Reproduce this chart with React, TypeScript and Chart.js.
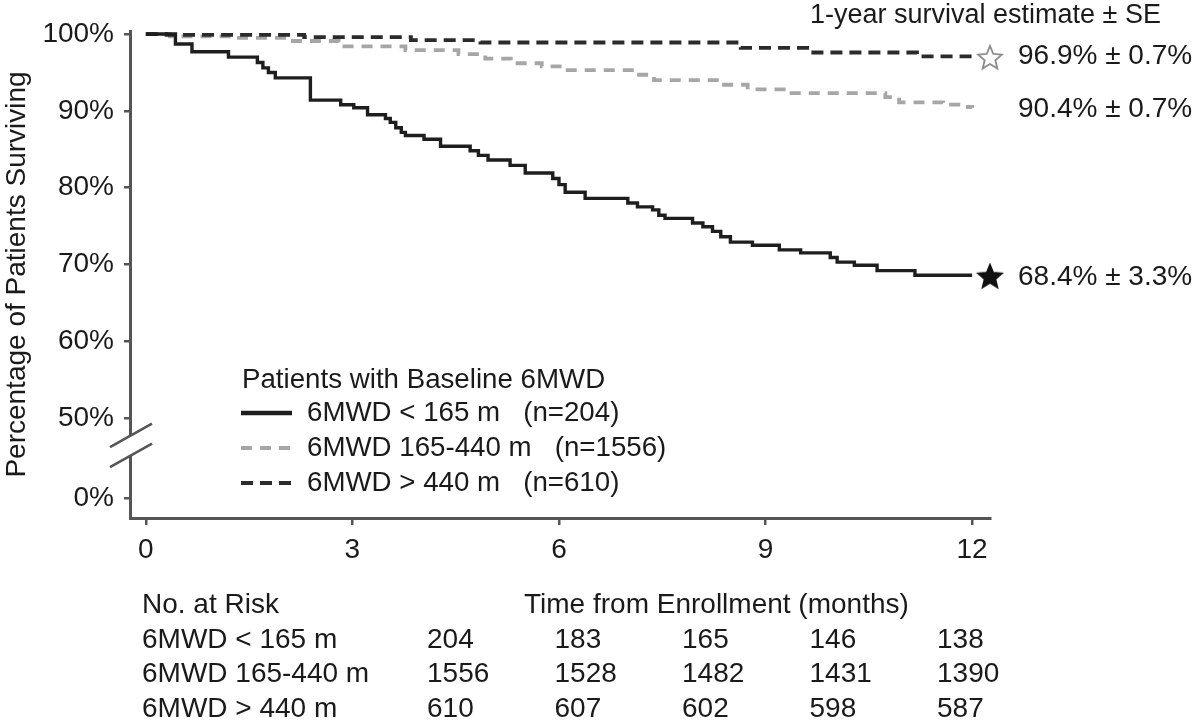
import React, { useEffect, useRef } from "react";
import { Chart, registerables, Plugin } from "chart.js";

Chart.register(...registerables);

// Kaplan-Meier steps (months, % surviving)
const lowMonths = [0, 0.43, 0.67, 1.2, 1.62, 1.7, 1.78, 1.88, 2.39, 2.83, 3.02, 3.22, 3.48, 3.55, 3.63, 3.71, 3.77, 4.04, 4.28, 4.71, 4.83, 4.97, 5.29, 5.51, 5.91, 6.0, 6.09, 6.38, 7.0, 7.14, 7.36, 7.45, 7.54, 7.94, 8.09, 8.23, 8.35, 8.49, 8.81, 9.2, 9.51, 9.94, 10.04, 10.29, 10.62, 11.17, 12.0];
const lowSurvival = [100, 98.7, 97.7, 97.0, 96.3, 95.6, 95.0, 94.3, 91.4, 90.8, 90.4, 89.5, 89.0, 88.5, 87.8, 87.2, 86.8, 86.3, 85.4, 84.8, 84.2, 83.6, 82.9, 81.9, 81.2, 80.4, 79.4, 78.6, 78.0, 77.5, 77.1, 76.4, 76.0, 75.4, 74.9, 74.3, 73.6, 72.9, 72.5, 71.9, 71.5, 70.9, 70.3, 69.9, 69.2, 68.6, 68.6];

const midMonths = [0, 0.35, 1.3, 2.1, 2.8, 3.77, 4.54, 4.93, 5.3, 5.75, 6.09, 7.12, 7.38, 8.35, 8.74, 9.32, 10.74, 10.94, 11.58, 11.9, 12.0];
const midSurvival = [100, 99.7, 99.5, 99.1, 98.4, 97.9, 97.4, 96.8, 96.2, 95.8, 95.3, 94.7, 94.0, 93.4, 92.8, 92.3, 91.8, 91.1, 90.8, 90.5, 90.4];

const highMonths = [0, 0.3, 2.3, 3.85, 4.86, 8.64, 9.64, 11.2, 12.0];
const highSurvival = [100, 99.9, 99.6, 99.2, 98.9, 98.2, 97.6, 97.1, 97.0];

const groupLabels = ["6MWD < 165 m", "6MWD 165-440 m", "6MWD > 440 m"];
const groupCounts = [204, 1556, 610];
const oneYearEstimate = [68.4, 90.4, 96.9];
const oneYearSE = [3.3, 0.7, 0.7];

const xTicks = [0, 3, 6, 9, 12];
const yTickPercents = [0, 50, 60, 70, 80, 90, 100];

const atRiskLow = [204, 183, 165, 146, 138];
const atRiskMid = [1556, 1528, 1482, 1431, 1390];
const atRiskHigh = [610, 607, 602, 598, 587];

// broken y axis: 50..100 linear, 0% squeezed in below the break
const ZERO_POS = 39.58;
const toAxis = (p: number) => (p >= 50 ? p : ZERO_POS + (p * (50 - ZERO_POS)) / 50);
const fromAxis = (v: number) => (v >= 50 - 1e-6 ? Math.round(v) : Math.round(((v - ZERO_POS) * 50) / (50 - ZERO_POS)));

const FONT = "'Liberation Sans', Arial, sans-serif";
const INK = "#1a1a1a";
const AXIS = "#555";
const STAR_X = 12.26;

const styles = [
  { color: "#1e1e1e", width: 3.4, dash: [] as number[] },
  { color: "#a6a6a6", width: 3.8, dash: [11, 8] },
  { color: "#2b2b2b", width: 3.8, dash: [12, 7] },
];

function makeStar(fill: string, stroke: string) {
  const c = document.createElement("canvas");
  c.width = 28;
  c.height = 28;
  const g = c.getContext("2d")!;
  const R = 12.5, r = 5.6, cx = 14, cy = 14.5;
  g.beginPath();
  for (let i = 0; i < 10; i++) {
    const rad = i % 2 === 0 ? R : r;
    const a = -Math.PI / 2 + (i * Math.PI) / 5;
    const px = cx + rad * Math.cos(a);
    const py = cy + rad * Math.sin(a);
    if (i === 0) g.moveTo(px, py);
    else g.lineTo(px, py);
  }
  g.closePath();
  g.fillStyle = fill;
  g.fill();
  g.lineWidth = 1.8;
  g.strokeStyle = stroke;
  g.stroke();
  return c;
}

const toPoints = (xs: number[], ys: number[]) => xs.map((x, i) => ({ x, y: toAxis(ys[i]) }));

const extrasPlugin: Plugin<"line"> = {
  id: "kmExtras",
  afterDraw(chart) {
    const { ctx, chartArea, scales } = chart;
    const y = scales.y;
    ctx.save();

    // axis break
    const ax = chartArea.left;
    const brTop = y.getPixelForValue(47.7);
    const brBot = y.getPixelForValue(45.1);
    ctx.fillStyle = "#fff";
    ctx.fillRect(ax - 3, brTop, 6, brBot - brTop);
    ctx.strokeStyle = AXIS;
    ctx.lineWidth = 2.5;
    [brTop, brBot].forEach((yc) => {
      ctx.beginPath();
      ctx.moveTo(ax - 20, yc + 11.5);
      ctx.lineTo(ax + 22, yc - 12);
      ctx.stroke();
    });

    // 1-year estimates at the right
    ctx.fillStyle = INK;
    ctx.textBaseline = "middle";
    ctx.textAlign = "left";
    ctx.font = `27px ${FONT}`;
    ctx.fillText("1-year survival estimate \u00b1 SE", 810, 16);
    ctx.font = `28px ${FONT}`;
    oneYearEstimate.forEach((est, i) => {
      const yy = y.getPixelForValue(toAxis(est)) + (i === 2 ? -2 : 1);
      ctx.fillText(`${est.toFixed(1)}% \u00b1 ${oneYearSE[i].toFixed(1)}%`, chartArea.right + 28, yy);
    });

    // legend
    ctx.font = `27.7px ${FONT}`;
    ctx.fillText("Patients with Baseline 6MWD", 242, 380);
    groupLabels.forEach((lab, i) => {
      const yy = 413 + i * 35;
      const s = styles[i];
      ctx.beginPath();
      ctx.setLineDash(s.dash);
      ctx.strokeStyle = s.color;
      ctx.lineWidth = i === 0 ? 4.5 : 4;
      ctx.moveTo(241, yy);
      ctx.lineTo(292, yy);
      ctx.stroke();
      ctx.setLineDash([]);
      ctx.fillStyle = INK;
      ctx.fillText(`${lab}   (n=${groupCounts[i]})`, 307, yy);
    });

    // number at risk table
    ctx.font = `28px ${FONT}`;
    ctx.fillText("No. at Risk", 142, 605);
    ctx.fillText("Time from Enrollment (months)", 524, 605);
    [atRiskLow, atRiskMid, atRiskHigh].forEach((row, r) => {
      const yy = 640 + r * 34.5;
      ctx.fillText(groupLabels[r], 142, yy);
      row.forEach((n, k) => ctx.fillText(String(n), 427 + k * 127.5, yy));
    });

    ctx.restore();
  },
};

export default function App() {
  const canvasRef = useRef<HTMLCanvasElement | null>(null);

  useEffect(() => {
    const ctx = canvasRef.current?.getContext("2d");
    if (!ctx) return;
    const hollowStar = makeStar("#fff", "#8a8a8a");
    const solidStar = makeStar("#111", "#111");

    const chart = new Chart(ctx, {
      type: "line",
      data: {
        datasets: [
          {
            label: groupLabels[0],
            data: toPoints(lowMonths, lowSurvival),
            borderColor: styles[0].color,
            borderWidth: styles[0].width,
            borderDash: styles[0].dash,
            stepped: true,
            pointRadius: 0,
            fill: false,
            order: 1,
          },
          {
            label: groupLabels[1],
            data: toPoints(midMonths, midSurvival),
            borderColor: styles[1].color,
            borderWidth: styles[1].width,
            borderDash: styles[1].dash,
            stepped: true,
            pointRadius: 0,
            fill: false,
            order: 3,
          },
          {
            label: groupLabels[2],
            data: toPoints(highMonths, highSurvival),
            borderColor: styles[2].color,
            borderWidth: styles[2].width,
            borderDash: styles[2].dash,
            stepped: true,
            pointRadius: 0,
            fill: false,
            order: 2,
          },
          {
            type: "scatter",
            label: "star low",
            data: [{ x: STAR_X, y: toAxis(oneYearEstimate[0]) }],
            pointStyle: solidStar,
            clip: false,
            order: 0,
          } as any,
          {
            type: "scatter",
            label: "star high",
            data: [{ x: STAR_X, y: toAxis(oneYearEstimate[2]) }],
            pointStyle: hollowStar,
            clip: false,
            order: 0,
          } as any,
        ],
      },
      options: {
        animation: false,
        responsive: false,
        devicePixelRatio: 1,
        layout: { padding: { top: 31, right: 210, bottom: 142, left: 0 } },
        plugins: { legend: { display: false }, tooltip: { enabled: false } },
        scales: {
          x: {
            type: "linear",
            min: -0.23,
            max: 12.26,
            afterBuildTicks: (s) => {
              s.ticks = xTicks.map((v) => ({ value: v }));
            },
            afterFit: (s) => {
              s.height = 62;
            },
            ticks: {
              font: { family: FONT, size: 28 },
              color: INK,
              padding: 8,
              maxRotation: 0,
              callback: (v) => String(v),
            },
            grid: { drawOnChartArea: false, drawTicks: true, tickLength: 7, color: AXIS, lineWidth: 2.5 },
            border: { display: true, color: AXIS, width: 3 },
          },
          y: {
            type: "linear",
            min: 36.98,
            max: 100.4,
            afterBuildTicks: (s) => {
              s.ticks = yTickPercents.map((p) => ({ value: toAxis(p) }));
            },
            afterFit: (s) => {
              s.width = 130;
            },
            ticks: {
              font: { family: FONT, size: 28 },
              color: INK,
              padding: 10,
              callback: (v) => `${fromAxis(Number(v))}%`,
            },
            grid: { drawOnChartArea: false, drawTicks: true, tickLength: 6, color: AXIS, lineWidth: 2.5 },
            border: { display: true, color: AXIS, width: 3 },
            title: {
              display: true,
              text: "Percentage of Patients Surviving",
              font: { family: FONT, size: 28 },
              color: INK,
              padding: 0,
            },
          },
        },
      },
      plugins: [extrasPlugin],
    });

    return () => chart.destroy();
  }, []);

  return (
    <div style={{ position: "absolute", left: 0, top: 0, width: 1200, height: 722, background: "#fff" }}>
      <canvas ref={canvasRef} width={1200} height={722} />
    </div>
  );
}
